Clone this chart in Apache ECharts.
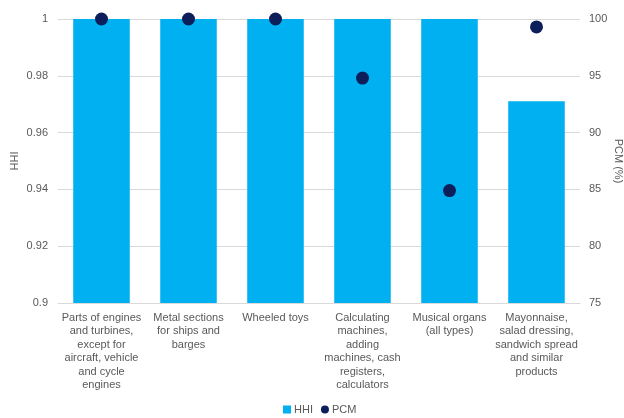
<!DOCTYPE html>
<html><head><meta charset="utf-8">
<script src="https://cdn.jsdelivr.net/npm/echarts@6/dist/echarts.min.js"></script>
<style>html,body{margin:0;padding:0;background:#fff}#c{width:624px;height:418px}</style>
</head><body><div id="c"></div>
<script>
const categories = [
  "Parts of engines\nand turbines,\nexcept for\naircraft, vehicle\nand cycle\nengines",
  "Metal sections\nfor ships and\nbarges",
  "Wheeled toys",
  "Calculating\nmachines,\nadding\nmachines, cash\nregisters,\ncalculators",
  "Musical organs\n(all types)",
  "Mayonnaise,\nsalad dressing,\nsandwich spread\nand similar\nproducts"
];
const hhiValues = [1, 1, 1, 1, 1, 0.971];
const pcmValues = [100, 100, 100, 94.8, 84.9, 99.3];
const hhiTicks = [0.9, 0.92, 0.94, 0.96, 0.98, 1];
const pcmTicks = [75, 80, 85, 90, 95, 100];

const txt = '#595959';
const font = 'Liberation Sans';
const chart = echarts.init(document.getElementById('c'));
chart.setOption({
  animation: false,
  textStyle: {fontFamily: font},
  grid: {left: 58, right: 44, top: 19, bottom: 115, containLabel: false, outerBoundsMode: 'none'},
  legend: {
    top: 399, left: 278, itemGap: 8, itemWidth: 8, itemHeight: 8,
    textStyle: {color: txt, fontSize: 11, fontFamily: font, padding: [0, 0, 0, -2]},
    data: [{name: 'HHI', icon: 'rect'}, {name: 'PCM', icon: 'circle'}]
  },
  xAxis: {
    type: 'category', data: categories,
    axisTick: {show: false},
    axisLine: {lineStyle: {color: '#d9d9d9'}},
    axisLabel: {color: txt, fontSize: 11, lineHeight: 13.5, interval: 0, margin: 8, fontFamily: font}
  },
  yAxis: [{
    type: 'value', min: hhiTicks[0], max: hhiTicks[hhiTicks.length-1], interval: 0.02,
    name: 'HHI', nameLocation: 'middle', nameGap: 43, nameRotate: 90, nameMoveOverlap: false,
    nameTextStyle: {color: txt, fontSize: 11, fontFamily: font, verticalAlign: 'middle'},
    axisLabel: {color: txt, fontSize: 11, margin: 10, formatter: v => String(+v.toFixed(2)), fontFamily: font},
    splitLine: {lineStyle: {color: '#d9d9d9'}},
    axisLine: {show: false}, axisTick: {show: false}
  }, {
    type: 'value', min: pcmTicks[0], max: pcmTicks[pcmTicks.length-1], interval: 5,
    name: 'PCM (%)', nameLocation: 'middle', nameGap: 38, nameRotate: -90, nameMoveOverlap: false,
    nameTextStyle: {color: txt, fontSize: 11, fontFamily: font, verticalAlign: 'middle'},
    axisLabel: {color: txt, fontSize: 11, margin: 9, fontFamily: font},
    splitLine: {show: false},
    axisLine: {show: false}, axisTick: {show: false}
  }],
  series: [{
    name: 'HHI', type: 'bar', data: hhiValues, yAxisIndex: 0,
    barCategoryGap: '35%',
    itemStyle: {color: '#00b0f0'}
  }, {
    name: 'PCM', type: 'scatter', data: pcmValues, yAxisIndex: 1,
    symbol: 'circle', symbolSize: 13,
    itemStyle: {color: '#0c1f5b', opacity: 1}
  }]
});
</script></body></html>
